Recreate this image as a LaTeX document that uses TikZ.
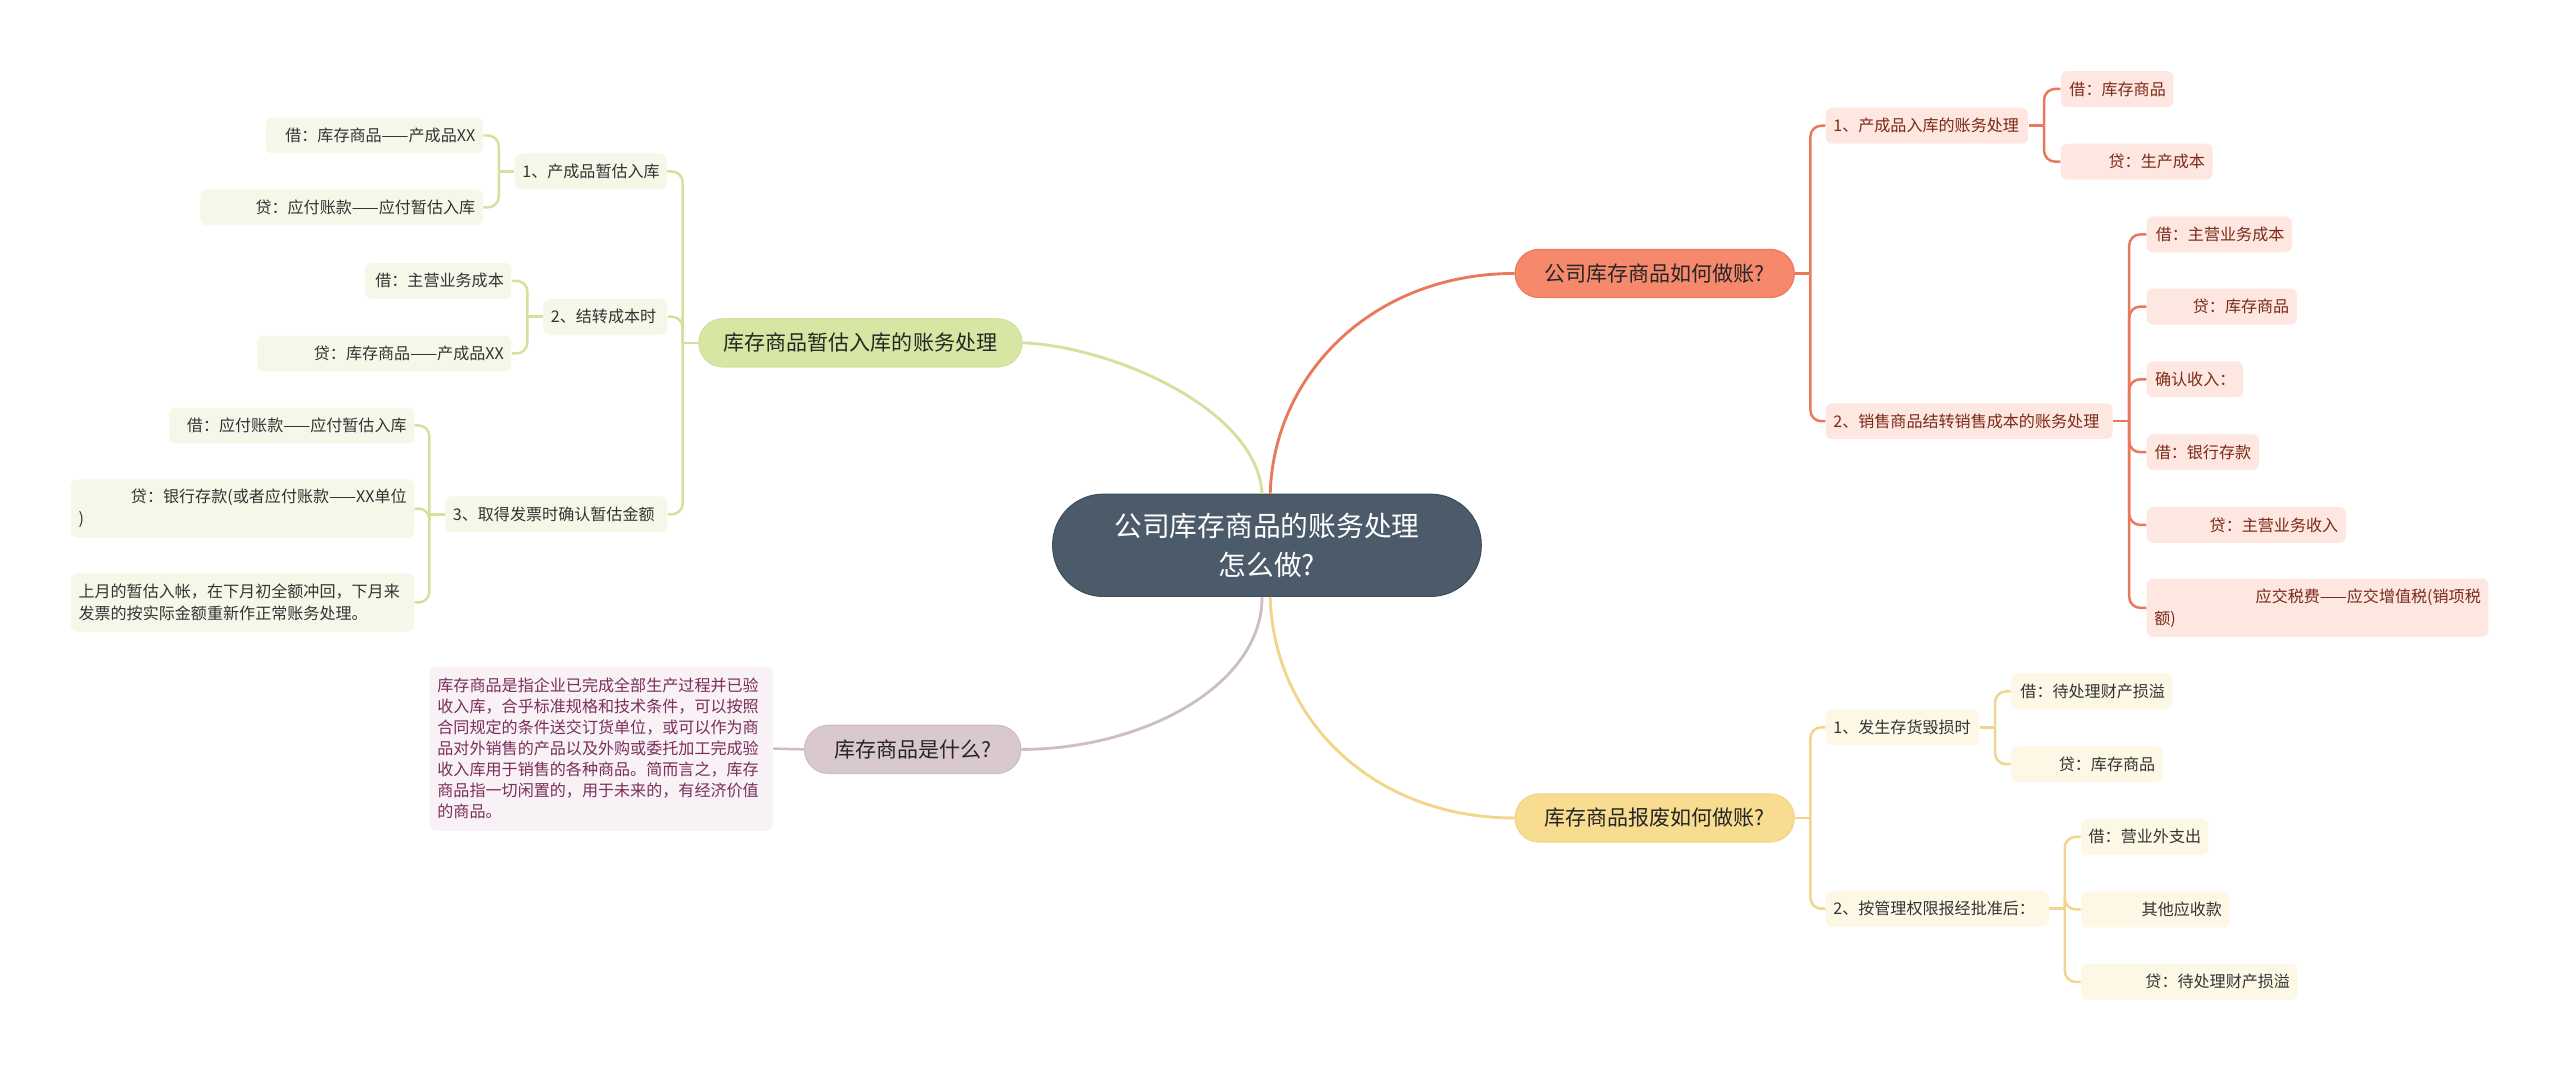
\documentclass[tikz,border=0pt]{standalone}
\usepackage{fontspec}
\setmainfont{Noto Sans CJK SC}
\usepackage{tikz}
\definecolor{rootfill}{HTML}{4B5B6A}
\definecolor{rootline}{HTML}{3F4E5C}
\definecolor{gpill}{HTML}{D7E6A2}
\definecolor{gline}{HTML}{D2E19C}
\definecolor{gleaf}{HTML}{F5F8E9}
\definecolor{opill}{HTML}{F6896C}
\definecolor{oline}{HTML}{E9795C}
\definecolor{oleaf}{HTML}{FDE7E0}
\definecolor{otext}{HTML}{7A2A18}
\definecolor{ypill}{HTML}{F8DC8F}
\definecolor{yline}{HTML}{F0D58A}
\definecolor{yleaf}{HTML}{FDF7E5}
\definecolor{mpill}{HTML}{D9C8D0}
\definecolor{mline}{HTML}{CDBDC6}
\definecolor{mleaf}{HTML}{F8F1F5}
\definecolor{mtext}{HTML}{7B2E5C}

\begin{document}
\begin{tikzpicture}[x=0.03cm,y=-0.03cm,
  rootbox/.style={fill=rootfill,draw=rootline,line width=0.6pt,rounded corners=0.93cm,
    minimum width=7.875cm,minimum height=1.878cm,align=center,text=white,
    font=\fontsize{14.5}{20}\selectfont},
  pill/.style={rounded corners=0.44cm,minimum height=0.885cm,inner sep=0pt,line width=0.6pt,
    text=black!85,font=\fontsize{11}{13}\selectfont},
  leaf/.style={rounded corners=0.12cm,minimum height=0.66cm,inner xsep=0.14cm,inner ysep=0.08cm,
    align=right,text=black!80,font=\fontsize{8.4}{11.5}\selectfont},
  mid/.style={leaf,align=left},
  twoline/.style={leaf,align=left,minimum height=1.07cm},
  gcurve/.style={draw=gline,line width=1.5pt},
  ocurve/.style={draw=oline,line width=1.5pt},
  ycurve/.style={draw=yline,line width=1.5pt},
  mcurve/.style={draw=mline,line width=1.5pt},
  gbr/.style={draw=gline,line width=1.3pt,rounded corners=0.2cm},
  obr/.style={draw=oline,line width=1.3pt,rounded corners=0.2cm},
  ybr/.style={draw=yline,line width=1.3pt,rounded corners=0.2cm}]
\useasboundingbox (0,0) rectangle (1568,656);

\node[rootbox] (root) at (776,334) {公司库存商品的账务处理\\怎么做?};

\node[pill,fill=gpill,draw=gline,minimum width=5.94cm] (g) at (527,210) {库存商品暂估入库的账务处理};
\node[mid,fill=gleaf,anchor=east,text width=2.51cm] (ga) at (408.5,105) {1、产成品暂估入库};
\node[mid,fill=gleaf,anchor=east,text width=2.0cm] (gb) at (409,194) {2、结转成本时};
\node[mid,fill=gleaf,anchor=east,text width=3.8cm] (gc) at (409,315) {3、取得发票时确认暂估金额};
\node[leaf,fill=gleaf,anchor=east,text width=3.71cm] (ga1) at (296,83) {借：库存商品——产成品XX};
\node[leaf,fill=gleaf,anchor=east,text width=4.91cm] (ga2) at (296,127) {贷：应付账款——应付暂估入库};
\node[leaf,fill=gleaf,anchor=east,text width=2.41cm] (gb1) at (313.5,172) {借：主营业务成本};
\node[leaf,fill=gleaf,anchor=east,text width=4.39cm] (gb2) at (313.5,216.5) {贷：库存商品——产成品XX};
\node[leaf,fill=gleaf,anchor=east,text width=4.22cm] (gc1) at (254,260.6) {借：应付账款——应付暂估入库};
\node[twoline,fill=gleaf,anchor=east,text width=6.03cm] (gc2) at (254,311.5)
  {\makebox[\hsize][r]{贷：银行存款(或者应付账款——XX单位}\\)};
\node[twoline,fill=gleaf,anchor=east,text width=6.03cm] (gc3) at (254,369)
  {上月的暂估入帐，在下月初全额冲回，下月来\\发票的按实际金额重新作正常账务处理。};

\node[pill,fill=mpill,draw=mline,minimum width=3.975cm] (m) at (559,459) {库存商品是什么?};
\node[leaf,fill=mleaf,anchor=east,text width=6.02cm,align=left,text=mtext,minimum height=3.02cm,
  font=\fontsize{8.4}{10.97}\selectfont] (m1) at (473.5,458.5)
  {库存商品是指企业已完成全部生产过程并已验\\收入库，合乎标准规格和技术条件，可以按照\\合同规定的条件送交订货单位，或可以作为商\\品对外销售的产品以及外购或委托加工完成验\\收入库用于销售的各种商品。简而言之，库存\\商品指一切闲置的，用于未来的，有经济价值\\的商品。};

\node[pill,fill=opill,draw=oline,minimum width=5.13cm] (o) at (1013.5,167.5) {公司库存商品如何做账?};
\node[mid,fill=oleaf,text=otext,anchor=west,text width=3.44cm] (oa) at (1118,77) {1、产成品入库的账务处理};
\node[mid,fill=oleaf,text=otext,anchor=west,text width=4.99cm] (ob) at (1118,258) {2、销售商品结转销售成本的账务处理};
\node[leaf,fill=oleaf,text=otext,anchor=west,text width=1.79cm] (oa1) at (1262,54.5) {借：库存商品};
\node[leaf,fill=oleaf,text=otext,anchor=west,text width=2.51cm] (oa2) at (1262,99) {贷：生产成本};
\node[leaf,fill=oleaf,text=otext,anchor=west,text width=2.39cm] (ob1) at (1314.6,143.6) {借：主营业务成本};
\node[leaf,fill=oleaf,text=otext,anchor=west,text width=2.48cm] (ob2) at (1314.6,187.8) {贷：库存商品};
\node[leaf,fill=oleaf,text=otext,anchor=west,text width=1.49cm] (ob3) at (1314.6,232.3) {确认收入：};
\node[leaf,fill=oleaf,text=otext,anchor=west,text width=1.78cm] (ob4) at (1314.6,277) {借：银行存款};
\node[leaf,fill=oleaf,text=otext,anchor=west,text width=3.38cm] (ob5) at (1314.6,321.5) {贷：主营业务收入};
\node[twoline,fill=oleaf,text=otext,anchor=west,text width=6.0cm] (ob6) at (1314.6,372.3)
  {\makebox[\hsize][r]{应交税费——应交增值税(销项税}\\额)};

\node[pill,fill=ypill,draw=yline,minimum width=5.13cm] (y) at (1013.5,501) {库存商品报废如何做账?};
\node[mid,fill=yleaf,anchor=west,text width=2.54cm] (ya) at (1118,445.5) {1、发生存货毁损时};
\node[mid,fill=yleaf,anchor=west,text width=3.82cm] (yb) at (1118,556.6) {2、按管理权限报经批准后：};
\node[leaf,fill=yleaf,anchor=west,text width=2.69cm] (ya1) at (1231.5,423.5) {借：待处理财产损溢};
\node[leaf,fill=yleaf,anchor=west,text width=2.51cm] (ya2) at (1231.5,468) {贷：库存商品};
\node[leaf,fill=yleaf,anchor=west,text width=2.06cm] (yb1) at (1274.4,512.6) {借：营业外支出};
\node[leaf,fill=yleaf,anchor=west,text width=2.45cm] (yb2) at (1274.4,557) {其他应收款};
\node[leaf,fill=yleaf,anchor=west,text width=3.7cm] (yb3) at (1274.4,601.4) {贷：待处理财产损溢};

\draw[gcurve] (g.east) .. controls (680,212) and (770,250) .. ([xshift=-0.09cm]root.north);
\draw[ocurve] ([xshift=0.06cm]root.north) .. controls (780,230) and (840,167.5) .. (o.west);
\draw[ycurve] ([xshift=0.06cm]root.south) .. controls (780,440) and (840,501) .. (y.west);
\draw[mcurve] ([xshift=-0.09cm]root.south) .. controls (773,420) and (700,459) .. (m.east);
\draw[mcurve,line width=1.3pt] (m.west) -- (m1.east);

\draw[gbr] (g.west) -- ++(-9.5,0) coordinate (gj);
\foreach \n in {ga,gb,gc} \draw[gbr] (gj) |- (\n.east);
\draw[gbr] (ga.west) -- ++(-9.5,0) coordinate (gaj);
\foreach \n in {ga1,ga2} \draw[gbr] (gaj) |- (\n.east);
\draw[gbr] (gb.west) -- ++(-9.5,0) coordinate (gbj);
\foreach \n in {gb1,gb2} \draw[gbr] (gbj) |- (\n.east);
\draw[gbr] (gc.west) -- ++(-9.5,0) coordinate (gcj);
\foreach \n in {gc1,gc2,gc3} \draw[gbr] (gcj) |- (\n.east);

\draw[obr] (o.east) -- ++(9.5,0) coordinate (oj);
\foreach \n in {oa,ob} \draw[obr] (oj) |- (\n.west);
\draw[obr] (oa.east) -- ++(9.5,0) coordinate (oaj);
\foreach \n in {oa1,oa2} \draw[obr] (oaj) |- (\n.west);
\draw[obr] (ob.east) -- ++(10,0) coordinate (obj);
\foreach \n in {ob1,ob2,ob3,ob4,ob5,ob6} \draw[obr] (obj) |- (\n.west);

\draw[ybr] (y.east) -- ++(9.5,0) coordinate (yj);
\foreach \n in {ya,yb} \draw[ybr] (yj) |- (\n.west);
\draw[ybr] (ya.east) -- ++(9.5,0) coordinate (yaj);
\foreach \n in {ya1,ya2} \draw[ybr] (yaj) |- (\n.west);
\draw[ybr] (yb.east) -- ++(9.5,0) coordinate (ybj);
\foreach \n in {yb1,yb2,yb3} \draw[ybr] (ybj) |- (\n.west);
\end{tikzpicture}
\end{document}
